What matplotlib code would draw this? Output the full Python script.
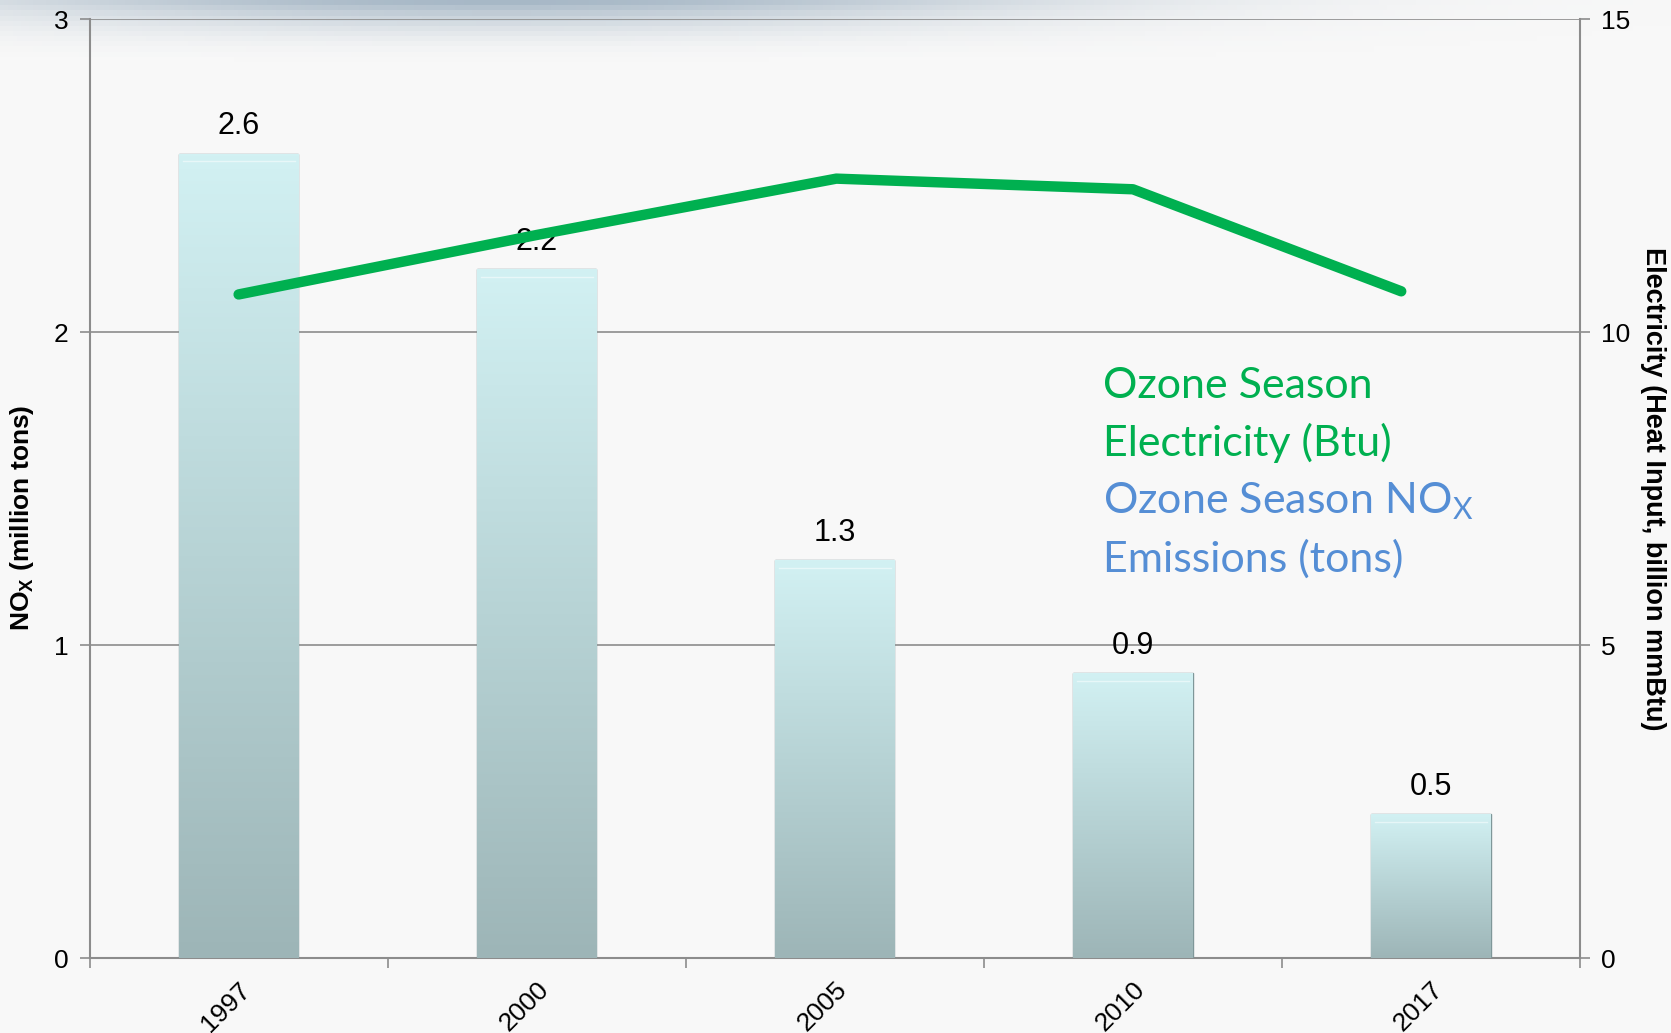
import numpy as np
import matplotlib.pyplot as plt
from matplotlib.colors import LinearSegmentedColormap

# data
years = ['1997', '2000', '2005', '2010', '2017']
nox = [2.57, 2.20, 1.27, 0.91, 0.46]          # million tons
line_pos = [0, 1, 2.005, 3.0, 3.90]            # where the drawn line points sit (category units)
heat_input = [10.6, 11.55, 12.45, 12.28, 10.65]  # billion mmBtu

green = '#00b050'
blue = '#558ed5'
grid_c = '#8c8c8c'

plt.rcParams['font.family'] = ['Liberation Sans', 'DejaVu Sans']

fig = plt.figure(figsize=(16.71, 10.33), dpi=100, facecolor='#f8f8f8')

# soft shadow band at the top of the slide
bg = fig.add_axes([0, 0, 1, 1], zorder=-10)
bg.set_axis_off()
yy, xx = np.mgrid[0:1:200j, 0:1:400j]
shade = np.exp(-((xx - 0.3) / 0.33) ** 2) * np.clip(1 - (1 - yy) / 0.06, 0, 1) ** 2
img = np.ones((200, 400, 4))
img[..., 0] = 0.58
img[..., 1] = 0.66
img[..., 2] = 0.73
img[..., 3] = shade * 0.8
bg.imshow(np.full((2, 2, 3), 0.973), extent=[0, 1, 0, 1], aspect='auto')
bg.imshow(img, extent=[0, 1, 0, 1], origin='lower', aspect='auto')
bg.set_xlim(0, 1)
bg.set_ylim(0, 1)

ax = fig.add_axes([0.0536, 0.0726, 0.892, 0.909])
ax.set_facecolor('none')
x = np.arange(len(years))

bars = ax.bar(x, nox, width=0.40, color='#c4e6e8', edgecolor='#7f9799', linewidth=1.0, zorder=3)
cmap = LinearSegmentedColormap.from_list('bar', ['#9db5b7', '#b7d3d5', '#d2f1f3'])
grad = np.linspace(0, 1, 256).reshape(-1, 1)
for b in bars:
    bx, by = b.get_x(), b.get_y()
    im = ax.imshow(grad, cmap=cmap, origin='lower', aspect='auto', zorder=3.5,
                   extent=[bx, bx + b.get_width(), by, by + b.get_height()])
    im.set_clip_path(b)
    # bevel highlight at top
    ax.plot([bx + 0.012, bx + b.get_width() - 0.012], [b.get_height() - 0.025] * 2,
            color='white', lw=1.0, alpha=0.5, zorder=4)
    ax.text(b.get_x() + b.get_width() / 2, b.get_height() + 0.04, f'{b.get_height():.1f}',
            ha='center', va='bottom', fontsize=22, zorder=5)

ax.set_xlim(-0.5, len(years) - 0.5)
ax.set_ylim(0, 3)
ax.set_yticks([0, 1, 2, 3])
ax.yaxis.grid(True, color=grid_c, lw=1.2, zorder=0)
ax.set_axisbelow(True)
ax.set_xticks(np.arange(-0.5, len(years)), minor=False)
ax.set_xticklabels([])
ax.set_xticks(x, minor=True)
ax.set_xticklabels(years, minor=True, rotation=45, ha='right', rotation_mode='anchor', fontsize=19)
ax.tick_params(axis='x', which='major', length=7, color=grid_c, width=1.2)
ax.tick_params(axis='x', which='minor', length=0, pad=14)
ax.tick_params(axis='y', length=7, color=grid_c, width=1.2, labelsize=19, pad=8)
for s in ['left', 'bottom']:
    ax.spines[s].set_color(grid_c)
    ax.spines[s].set_linewidth(1.5)
ax.spines['top'].set_visible(False)
ax.spines['right'].set_visible(False)
ax.set_ylabel('NO$_\\mathregular{X}$ (million tons)', fontsize=19, fontweight='bold')
ax.yaxis.set_label_coords(-0.036, 0.469)

ax2 = ax.twinx()
ax2.plot(line_pos, heat_input, color=green, lw=7.5, solid_capstyle='round', solid_joinstyle='round', zorder=6)
ax2.set_ylim(0, 15)
ax2.set_yticks([0, 5, 10, 15])
ax2.tick_params(axis='y', length=7, color=grid_c, width=1.2, labelsize=19, pad=8)
for s in ['left', 'bottom', 'top']:
    ax2.spines[s].set_visible(False)
ax2.spines['right'].set_color(grid_c)
ax2.spines['right'].set_linewidth(1.5)
ax2.set_ylabel('Electricity (Heat Input, billion mmBtu)', fontsize=19.5, fontweight='bold',
               rotation=-90, labelpad=26)

legend_font = ['Lato', 'DejaVu Sans']
ax2.text(0.680, 0.629, 'Ozone Season\nElectricity (Btu)', transform=ax2.transAxes,
         color=green, fontsize=31, family=legend_font, va='top', linespacing=1.52)
ax2.text(0.680, 0.509, 'Ozone Season NO$_\\mathregular{X}$\nEmissions (tons)', transform=ax2.transAxes,
         color=blue, fontsize=31, family=legend_font, va='top', linespacing=1.52)

fig.savefig('out.png', dpi=100, facecolor=fig.get_facecolor())
